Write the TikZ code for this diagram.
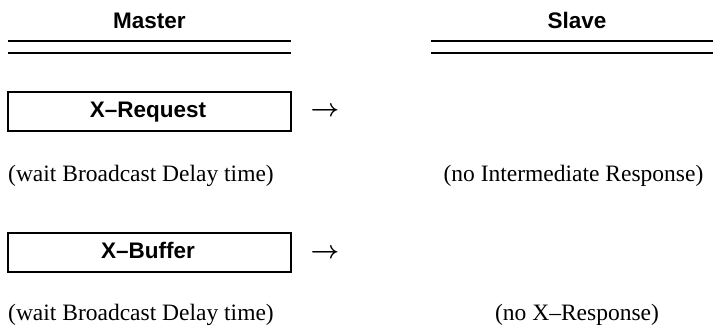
\documentclass[tikz,border=0pt]{standalone}
\usepackage{fontspec}
\setmainfont{Liberation Serif}
\newfontfamily\headfont{Liberation Sans}[Ligatures=TeX]
\begin{document}
\begin{tikzpicture}[x=1pt,y=-1pt,
  rule/.style={line width=2pt},
  msgbox/.style={draw,line width=2pt,minimum width=283pt,minimum height=39pt,inner sep=0pt},
  headtxt/.style={anchor=base,inner sep=0pt,font=\headfont\bfseries\fontsize{22.5}{26}\selectfont},
  bodytxt/.style={anchor=base,inner sep=0pt,font=\fontsize{23.5}{27}\selectfont},
  arrowtxt/.style={anchor=center,inner sep=0pt,font=\fontsize{26}{30}\selectfont\boldmath}]
\useasboundingbox (0,0) rectangle (713,333);
% headers
\node[headtxt] (master) at (149.5,28) {Master};
\node[headtxt] (slave) at (577,28) {Slave};
\draw[rule] (8,41) -- (291,41);
\draw[rule] (8,53) -- (291,53);
\draw[rule] (431,41) -- (713,41);
\draw[rule] (431,53) -- (713,53);
% X-Request
\node[msgbox] (reqbox) at (149.5,111.5) {};
\node[headtxt] (reqtxt) at (148,117) {X–Request};
\node[arrowtxt] (reqarrow) at (325,112) {$\rightarrow$};
\node[bodytxt,anchor=base west] (wait1) at (8,181) {(wait Broadcast Delay time)};
\node[bodytxt] (noint) at (573.5,181) {(no Intermediate Response)};
% X-Buffer
\node[msgbox] (bufbox) at (149.5,252.5) {};
\node[headtxt] (buftxt) at (148,258) {X–Buffer};
\node[arrowtxt] (bufarrow) at (325,254) {$\rightarrow$};
\node[bodytxt,anchor=base west] (wait2) at (8,320) {(wait Broadcast Delay time)};
\node[bodytxt] (noresp) at (577,320) {(no X–Response)};
\end{tikzpicture}
\end{document}
